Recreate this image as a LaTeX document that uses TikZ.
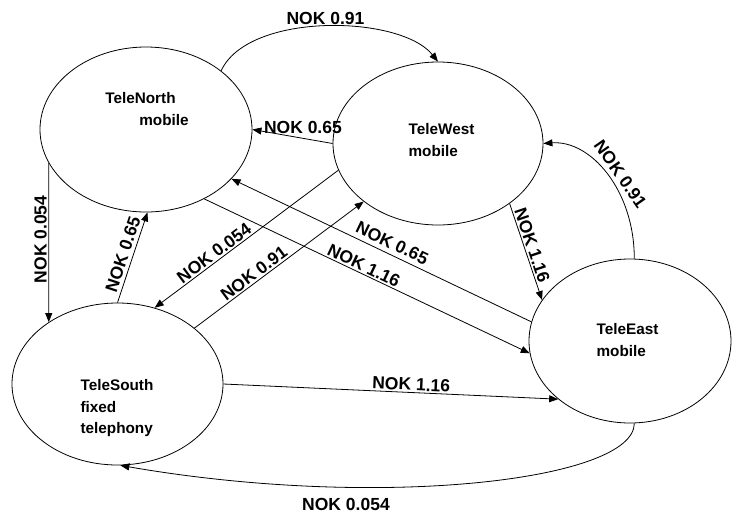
\documentclass[tikz,border=0pt]{standalone}
\usepackage{fontspec}
\setmainfont{Liberation Sans}
\usepackage{tikz}
\usetikzlibrary{shapes.geometric,arrows.meta}
\tikzset{%
  stateEllipse/.style={%
    ellipse,
    draw,
    line width=0.8pt,
    inner sep=0pt
  },
  stateText/.style={%
    font=\fontsize{15.3}{21.5}\selectfont\bfseries,
    align=left,
    inner sep=0pt
  },
  arrowLine/.style={%
    -{Triangle[length=9pt,width=7pt]},
    line width=0.8pt
  },
  costLabel/.style={%
    font=\fontsize{17.5}{20}\selectfont\bfseries,
    inner sep=1.5pt
  }
}

\begin{document}
\begin{tikzpicture}[x=1pt, y=-1pt]
  \useasboundingbox (0,0) rectangle (732,520);

  \node[stateEllipse, minimum width=212pt, minimum height=165pt] (north) at (146,129.5) {};
  \node[stateEllipse, minimum width=210pt, minimum height=163pt] (west) at (438,143.5) {};
  \node[stateEllipse, minimum width=211pt, minimum height=162pt] (south) at (117.5,384) {};
  \node[stateEllipse, minimum width=202pt, minimum height=164pt] (east) at (630,341) {};

  \node[stateText] (northText) at (147,109) {TeleNorth\\\hspace*{34pt}mobile};
  \node[stateText] (westText) at (441.5,140) {TeleWest\\mobile};
  \node[stateText] (southText) at (117,408.5) {TeleSouth\\fixed\\telephony};
  \node[stateText] (eastText) at (627.5,340) {TeleEast\\mobile};

  \draw[arrowLine] (north.38) .. controls +(27,-59) and +(-38,-47) .. node[costLabel, above, pos=0.5] (nwCost) {NOK 0.91} (west.90);
  \draw[arrowLine] (west.180) -- node[costLabel, above=3pt, pos=0.37] (wnCost) {NOK 0.65} (north.0);
  \draw[arrowLine] (north.199) -- node[costLabel, rotate=90, above, pos=0.48] (nsCost) {NOK 0.054} (south.138);
  \draw[arrowLine] (south.90) -- node[costLabel, sloped, above=2pt, pos=0.5] (snCost) {NOK 0.65} (north.271);
  \draw[arrowLine] (west.195) -- node[costLabel, sloped, above, pos=0.65] (wsCost) {NOK 0.054} (south.64);
  \draw[arrowLine] (south.36) -- node[costLabel, sloped, above, pos=0.38] (swCost) {NOK 0.91} (west.218);
  \draw[arrowLine] (east.169) -- node[costLabel, sloped, above=3pt, pos=0.48] (enCost) {NOK 0.65} (north.330);
  \draw[arrowLine] (north.310) -- node[costLabel, sloped, above, pos=0.48] (neCost) {NOK 1.16} (east.187);
  \draw[arrowLine] (west.320) -- node[costLabel, sloped, above, pos=0.46] (weCost) {NOK 1.16} (east.155);
  \draw[arrowLine] (east.87) .. controls +(0,-69) and +(47,-3.5) .. node[costLabel, sloped, above=3pt, pos=0.45] (ewCost) {NOK 0.91} (west.0);
  \draw[arrowLine] (south.0) -- node[costLabel, sloped, above, pos=0.56] (seCost) {NOK 1.16} (east.219);
  \draw[arrowLine] (east.273) .. controls +(0,57) and +(260,45) .. node[costLabel, below=9pt, pos=0.7] (esCost) {NOK 0.054} (south.272);
\end{tikzpicture}
\end{document}
